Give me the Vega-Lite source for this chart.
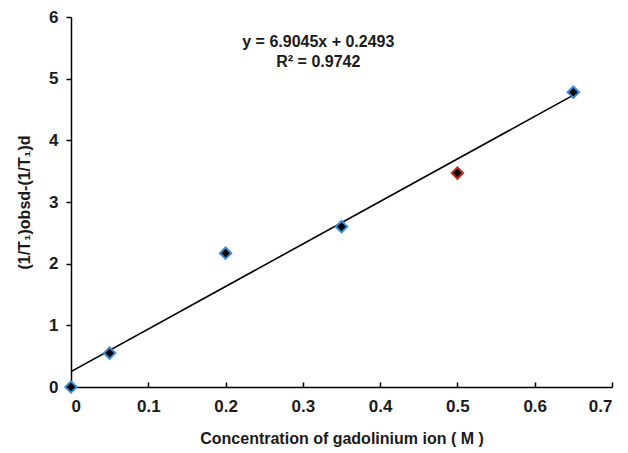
{
  "$schema": "https://vega.github.io/schema/vega-lite/v6.json",
  "width": 541,
  "height": 370,
  "autosize": {"type": "none"},
  "padding": {"left": 71, "top": 17, "right": 16, "bottom": 66},
  "background": "white",
  "config": {
    "view": {"stroke": null},
    "font": "Liberation Sans",
    "axis": {
      "grid": false,
      "domainColor": "#000000",
      "domainWidth": 1.5,
      "tickColor": "#000000",
      "tickWidth": 1.5,
      "labelFont": "Liberation Sans",
      "labelFontWeight": "bold",
      "labelFontSize": 17,
      "labelColor": "#1a1a1a",
      "titleFont": "Liberation Sans",
      "titleFontWeight": "bold",
      "titleFontSize": 16,
      "titleColor": "#1a1a1a"
    }
  },
  "data": {
    "values": [
      {"x": 0, "y": 0},
      {"x": 0.05, "y": 0.55},
      {"x": 0.2, "y": 2.17},
      {"x": 0.35, "y": 2.6},
      {"x": 0.5, "y": 3.47},
      {"x": 0.65, "y": 4.78}
    ]
  },
  "layer": [
    {
      "transform": [{"regression": "y", "on": "x", "extent": [0, 0.65]}],
      "mark": {"type": "line", "color": "#000000", "strokeWidth": 1.6, "clip": true},
      "encoding": {
        "x": {"field": "x", "type": "quantitative"},
        "y": {"field": "y", "type": "quantitative"}
      }
    },
    {
      "mark": {"type": "point", "shape": "diamond", "filled": true, "size": 130, "fill": "#000000", "strokeWidth": 2, "opacity": 1},
      "encoding": {
        "x": {
          "field": "x", "type": "quantitative",
          "scale": {"domain": [0, 0.7], "nice": false},
          "axis": {"values": [0, 0.1, 0.2, 0.3, 0.4, 0.5, 0.6, 0.7], "format": "~g", "tickSize": -5, "labelPadding": 16, "title": "Concentration of gadolinium ion ( M )", "titlePadding": 16}
        },
        "y": {
          "field": "y", "type": "quantitative",
          "scale": {"domain": [0, 6], "nice": false},
          "axis": {"values": [0, 1, 2, 3, 4, 5, 6], "format": "d", "tickSize": 5, "labelPadding": 8, "title": "(1/T₁)obsd-(1/T₁)d", "titlePadding": 16}
        },
        "stroke": {
          "condition": {"test": "datum.x == 0.5", "value": "#c03020"},
          "value": "#3a8fd8"
        }
      }
    },
    {
      "data": {"values": [{"x": 0.32, "y": 5.6, "label": ["y = 6.9045x + 0.2493", "R² = 0.9742"]}]},
      "mark": {"type": "text", "font": "Liberation Sans", "fontWeight": "bold", "fontSize": 16, "color": "#1a1a1a", "align": "center", "baseline": "middle", "lineHeight": 20},
      "encoding": {
        "x": {"field": "x", "type": "quantitative"},
        "y": {"field": "y", "type": "quantitative"},
        "text": {"field": "label"}
      }
    }
  ]
}
